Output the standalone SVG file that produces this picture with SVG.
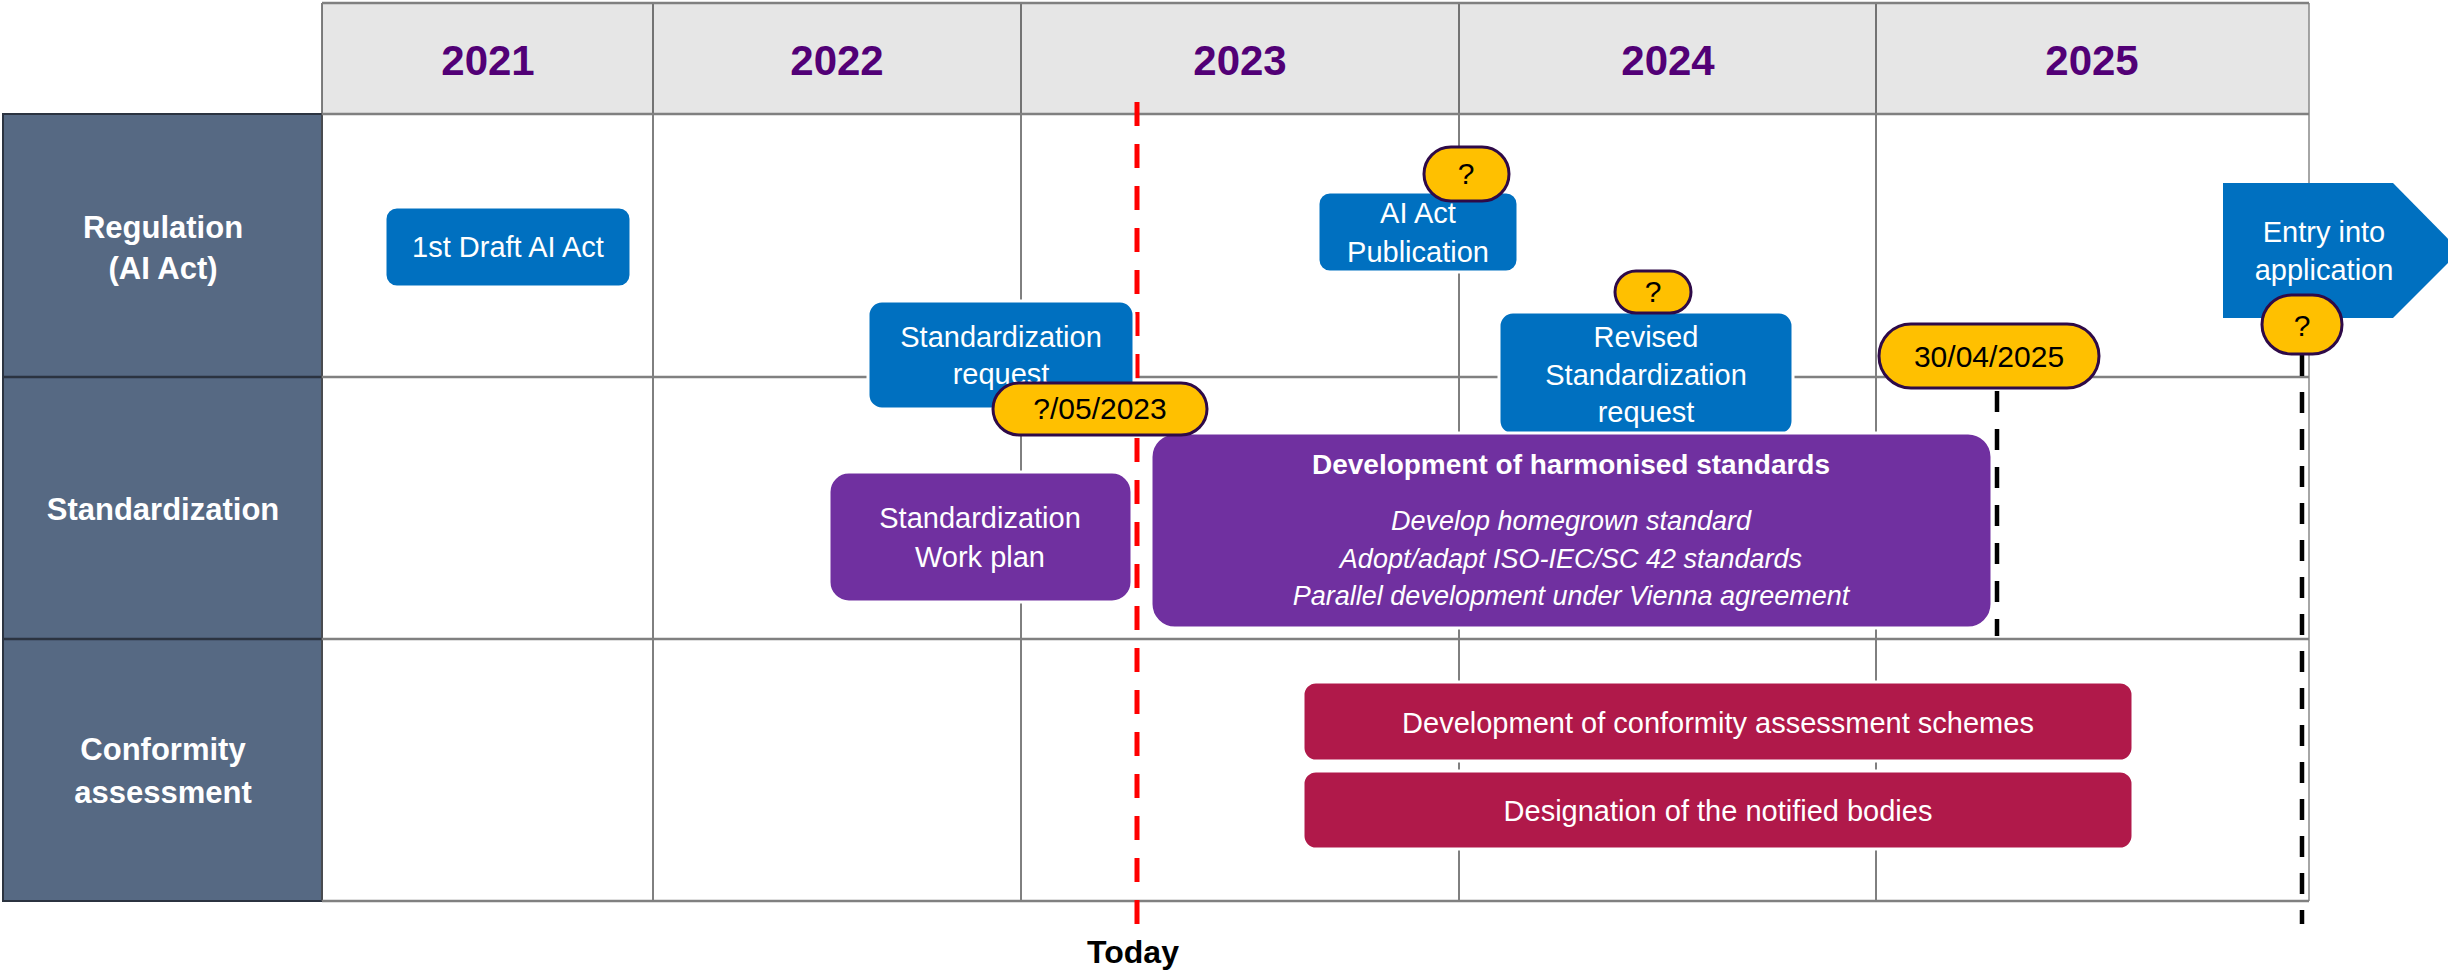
<svg xmlns="http://www.w3.org/2000/svg" width="2448" height="976" viewBox="0 0 2448 976">
<style>
text{font-family:"Liberation Sans",Arial,sans-serif}
.year{font-size:42px;font-weight:bold;fill:#520076;text-anchor:middle}
.lane{font-size:31px;font-weight:bold;fill:#ffffff;text-anchor:middle}
.bt{font-size:29px;fill:#ffffff;text-anchor:middle}
.pt{font-size:30px;fill:#000000;text-anchor:middle}
.blue{fill:#0070C0;stroke:#ffffff;stroke-width:3}
.purple{fill:#7030A0;stroke:#ffffff;stroke-width:3}
.crim{fill:#B0194A;stroke:#ffffff;stroke-width:3}
.pill{fill:#FFC000;stroke:#2E0A48;stroke-width:3}
.vl{stroke:#000000;stroke-width:1}
.hl{stroke:#808080;stroke-width:2.5}
</style>
<rect width="2448" height="976" fill="#ffffff"/>
<g id="grid">
<rect x="322" y="3" width="1987" height="111" fill="#E6E6E6"/>
<rect x="3" y="114" width="319" height="787" fill="#566983" stroke="#2B3340" stroke-width="2"/>
<line x1="3" y1="377" x2="322" y2="377" stroke="#2B3340" stroke-width="2.5"/>
<line x1="3" y1="639" x2="322" y2="639" stroke="#2B3340" stroke-width="2.5"/>
<line class="vl" x1="653" y1="3" x2="653" y2="901"/>
<line class="vl" x1="1021" y1="3" x2="1021" y2="901"/>
<line class="vl" x1="1459" y1="3" x2="1459" y2="901"/>
<line class="vl" x1="1876" y1="3" x2="1876" y2="901"/>
<line x1="322" y1="3" x2="322" y2="901" stroke="#555555" stroke-width="1.5"/>
<line x1="2309" y1="3" x2="2309" y2="901" stroke="#888888" stroke-width="1.5"/>
<line class="hl" x1="322" y1="3" x2="2309" y2="3"/>
<line class="hl" x1="322" y1="114" x2="2309" y2="114"/>
<line class="hl" x1="322" y1="377" x2="2309" y2="377"/>
<line class="hl" x1="322" y1="639" x2="2309" y2="639"/>
<line class="hl" x1="322" y1="901" x2="2309" y2="901"/>
</g>
<g id="years">
<text class="year" x="488" y="75">2021</text>
<text class="year" x="837" y="75">2022</text>
<text class="year" x="1240" y="75">2023</text>
<text class="year" x="1668" y="75">2024</text>
<text class="year" x="2092" y="75">2025</text>
</g>
<g id="lane-regulation"><text class="lane" x="163" y="238">Regulation</text><text class="lane" x="163" y="279">(AI Act)</text></g>
<g id="lane-standardization"><text class="lane" x="163" y="520">Standardization</text></g>
<g id="lane-conformity"><text class="lane" x="163" y="760">Conformity</text><text class="lane" x="163" y="803">assessment</text></g>
<g id="connectors">
<line x1="1137" y1="102" x2="1137" y2="924" stroke="#FF0000" stroke-width="5" stroke-dasharray="24 18"/>
<line x1="1997" y1="391" x2="1997" y2="636" stroke="#000000" stroke-width="4.5" stroke-dasharray="21 17"/>
<line x1="2302" y1="355" x2="2302" y2="924" stroke="#000000" stroke-width="4.5" stroke-dasharray="21 16"/>
</g>
<g id="today"><text x="1133" y="963" font-size="32" font-weight="bold" text-anchor="middle" fill="#000000">Today</text></g>
<g id="draft"><rect class="blue" x="385" y="207" width="246" height="80" rx="12"/><text class="bt" x="508" y="257">1st Draft AI Act</text></g>
<g id="std-request"><rect class="blue" x="868" y="301" width="266" height="108" rx="14"/><text class="bt" x="1001" y="347">Standardization</text><text class="bt" x="1001" y="384">request</text></g>
<g id="ai-act-pub"><rect class="blue" x="1318" y="192" width="200" height="80" rx="12"/><text class="bt" x="1418" y="223">AI Act</text><text class="bt" x="1418" y="262">Publication</text></g>
<g id="revised-request"><rect class="blue" x="1499" y="312" width="294" height="123" rx="14"/><text class="bt" x="1646" y="347">Revised</text><text class="bt" x="1646" y="385">Standardization</text><text class="bt" x="1646" y="422">request</text></g>
<g id="entry-application"><path d="M2223 183 H2393 L2460 251 L2393 318 H2223 Z" fill="#0070C0"/><text class="bt" x="2324" y="242">Entry into</text><text class="bt" x="2324" y="280">application</text></g>
<g id="work-plan"><rect class="purple" x="829" y="472" width="303" height="130" rx="20"/><text class="bt" x="980" y="528">Standardization</text><text class="bt" x="980" y="567">Work plan</text></g>
<g id="harmonised"><rect class="purple" x="1151" y="433" width="841" height="195" rx="24"/>
<text x="1571" y="474" font-size="28" font-weight="bold" fill="#ffffff" text-anchor="middle">Development of harmonised standards</text>
<text x="1571" y="530" font-size="27" font-style="italic" fill="#ffffff" text-anchor="middle">Develop homegrown standard</text>
<text x="1571" y="568" font-size="27" font-style="italic" fill="#ffffff" text-anchor="middle">Adopt/adapt ISO-IEC/SC 42 standards</text>
<text x="1571" y="605" font-size="27" font-style="italic" fill="#ffffff" text-anchor="middle">Parallel development under Vienna agreement</text></g>
<g id="conformity-schemes"><rect class="crim" x="1303" y="682" width="830" height="79" rx="13"/><text class="bt" x="1718" y="733">Development of conformity assessment schemes</text></g>
<g id="notified-bodies"><rect class="crim" x="1303" y="771" width="830" height="78" rx="13"/><text class="bt" x="1718" y="821">Designation of the notified bodies</text></g>
<g id="pill-0523"><rect class="pill" x="993" y="383" width="214" height="52" rx="26"/><text class="pt" x="1100" y="419">?/05/2023</text></g>
<g id="pill-pub"><rect class="pill" x="1424" y="147" width="85" height="54" rx="27"/><text class="pt" x="1466" y="184">?</text></g>
<g id="pill-revised"><rect class="pill" x="1615" y="271" width="76" height="42" rx="21"/><text class="pt" x="1653" y="302" font-size="26">?</text></g>
<g id="pill-300425"><rect class="pill" x="1879" y="324" width="220" height="64" rx="32"/><text class="pt" x="1989" y="367">30/04/2025</text></g>
<g id="pill-entry"><rect class="pill" x="2262" y="295" width="80" height="59" rx="29.5"/><text class="pt" x="2302" y="336" font-size="32">?</text></g>
</svg>
